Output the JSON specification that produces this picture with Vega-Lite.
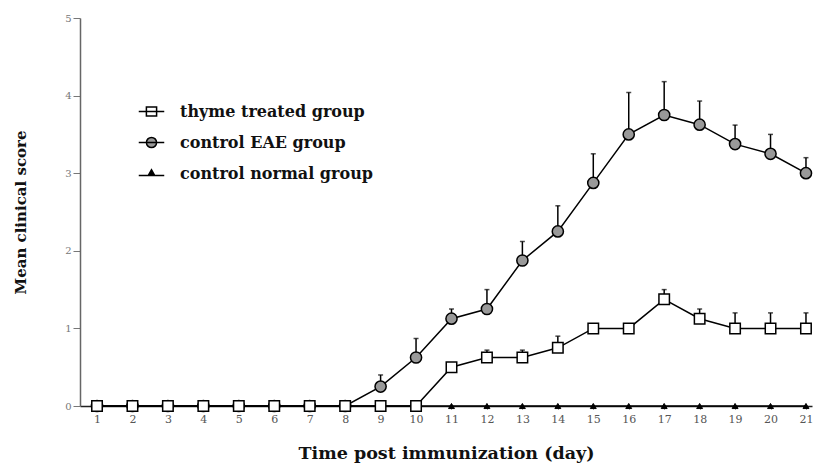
{
  "$schema": "https://vega.github.io/schema/vega-lite/v6.json",
  "width": 732,
  "height": 388,
  "autosize": {"type": "none"},
  "padding": {"left": 80, "top": 18, "right": 6, "bottom": 59},
  "background": "white",
  "config": {
    "view": {"stroke": null},
    "font": "DejaVu Serif",
    "axis": {"grid": false}
  },
  "data": {
    "values": [
      {"day": 1, "group": "control normal group", "score": 0},
      {"day": 2, "group": "control normal group", "score": 0},
      {"day": 3, "group": "control normal group", "score": 0},
      {"day": 4, "group": "control normal group", "score": 0},
      {"day": 5, "group": "control normal group", "score": 0},
      {"day": 6, "group": "control normal group", "score": 0},
      {"day": 7, "group": "control normal group", "score": 0},
      {"day": 8, "group": "control normal group", "score": 0},
      {"day": 9, "group": "control normal group", "score": 0},
      {"day": 10, "group": "control normal group", "score": 0},
      {"day": 11, "group": "control normal group", "score": 0},
      {"day": 12, "group": "control normal group", "score": 0},
      {"day": 13, "group": "control normal group", "score": 0},
      {"day": 14, "group": "control normal group", "score": 0},
      {"day": 15, "group": "control normal group", "score": 0},
      {"day": 16, "group": "control normal group", "score": 0},
      {"day": 17, "group": "control normal group", "score": 0},
      {"day": 18, "group": "control normal group", "score": 0},
      {"day": 19, "group": "control normal group", "score": 0},
      {"day": 20, "group": "control normal group", "score": 0},
      {"day": 21, "group": "control normal group", "score": 0},
      {"day": 1, "group": "control EAE group", "score": 0},
      {"day": 2, "group": "control EAE group", "score": 0},
      {"day": 3, "group": "control EAE group", "score": 0},
      {"day": 4, "group": "control EAE group", "score": 0},
      {"day": 5, "group": "control EAE group", "score": 0},
      {"day": 6, "group": "control EAE group", "score": 0},
      {"day": 7, "group": "control EAE group", "score": 0},
      {"day": 8, "group": "control EAE group", "score": 0},
      {"day": 9, "group": "control EAE group", "score": 0.25, "upper": 0.4},
      {"day": 10, "group": "control EAE group", "score": 0.625, "upper": 0.87},
      {"day": 11, "group": "control EAE group", "score": 1.125, "upper": 1.25},
      {"day": 12, "group": "control EAE group", "score": 1.25, "upper": 1.5},
      {"day": 13, "group": "control EAE group", "score": 1.875, "upper": 2.12},
      {"day": 14, "group": "control EAE group", "score": 2.25, "upper": 2.58},
      {"day": 15, "group": "control EAE group", "score": 2.875, "upper": 3.25},
      {"day": 16, "group": "control EAE group", "score": 3.5, "upper": 4.04},
      {"day": 17, "group": "control EAE group", "score": 3.75, "upper": 4.18},
      {"day": 18, "group": "control EAE group", "score": 3.625, "upper": 3.93},
      {"day": 19, "group": "control EAE group", "score": 3.375, "upper": 3.62},
      {"day": 20, "group": "control EAE group", "score": 3.25, "upper": 3.5},
      {"day": 21, "group": "control EAE group", "score": 3.0, "upper": 3.2},
      {"day": 1, "group": "thyme treated group", "score": 0},
      {"day": 2, "group": "thyme treated group", "score": 0},
      {"day": 3, "group": "thyme treated group", "score": 0},
      {"day": 4, "group": "thyme treated group", "score": 0},
      {"day": 5, "group": "thyme treated group", "score": 0},
      {"day": 6, "group": "thyme treated group", "score": 0},
      {"day": 7, "group": "thyme treated group", "score": 0},
      {"day": 8, "group": "thyme treated group", "score": 0},
      {"day": 9, "group": "thyme treated group", "score": 0},
      {"day": 10, "group": "thyme treated group", "score": 0},
      {"day": 11, "group": "thyme treated group", "score": 0.5},
      {"day": 12, "group": "thyme treated group", "score": 0.625, "upper": 0.72},
      {"day": 13, "group": "thyme treated group", "score": 0.625, "upper": 0.72},
      {"day": 14, "group": "thyme treated group", "score": 0.75, "upper": 0.9},
      {"day": 15, "group": "thyme treated group", "score": 1.0},
      {"day": 16, "group": "thyme treated group", "score": 1.0},
      {"day": 17, "group": "thyme treated group", "score": 1.375, "upper": 1.5},
      {"day": 18, "group": "thyme treated group", "score": 1.125, "upper": 1.25},
      {"day": 19, "group": "thyme treated group", "score": 1.0, "upper": 1.2},
      {"day": 20, "group": "thyme treated group", "score": 1.0, "upper": 1.2},
      {"day": 21, "group": "thyme treated group", "score": 1.0, "upper": 1.2}
    ]
  },
  "encoding": {
    "x": {
      "field": "day", "type": "quantitative",
      "scale": {"domain": [0.52, 21.17], "nice": false, "zero": false},
      "axis": {
        "title": "Time post immunization (day)",
        "values": [1,2,3,4,5,6,7,8,9,10,11,12,13,14,15,16,17,18,19,20,21],
        "format": "d",
        "labelFont": "DejaVu Serif", "labelFontSize": 11, "labelColor": "#555",
        "labelPadding": 4,
        "tickSize": 3, "tickColor": "#555",
        "domainColor": "#222", "domainWidth": 1.5,
        "titleFont": "DejaVu Serif", "titleFontSize": 17.5, "titleFontWeight": "bold", "titleColor": "#111",
        "titlePadding": 20
      }
    },
    "y": {
      "field": "score", "type": "quantitative",
      "scale": {"domain": [0, 5], "nice": false},
      "axis": {
        "title": "Mean clinical score",
        "values": [0,1,2,3,4,5],
        "labelFont": "DejaVu Serif", "labelFontSize": 10, "labelColor": "#777",
        "tickSize": 7, "tickColor": "#777",
        "domainColor": "#666", "domainWidth": 1.5,
        "titleFont": "DejaVu Serif", "titleFontSize": 15, "titleFontWeight": "bold", "titleColor": "#111",
        "titlePadding": 36
      }
    }
  },
  "layer": [
    {
      "transform": [{"filter": "datum.upper != null"}],
      "mark": {"type": "rule", "color": "black", "strokeWidth": 1.5},
      "encoding": {"y2": {"field": "upper"}}
    },
    {
      "transform": [{"filter": "datum.upper != null"}],
      "mark": {"type": "tick", "orient": "horizontal", "color": "black", "size": 5, "thickness": 1.5},
      "encoding": {"y": {"field": "upper", "type": "quantitative"}}
    },
    {
      "mark": {"type": "line", "color": "black", "strokeWidth": 1.5},
      "encoding": {"detail": {"field": "group"}}
    },
    {
      "mark": {"type": "point", "opacity": 0, "strokeWidth": 1.5, "stroke": "black", "filled": true},
      "encoding": {
        "shape": {
          "field": "group", "type": "nominal",
          "scale": {
            "domain": ["thyme treated group", "control EAE group", "control normal group"],
            "range": [
              "M-1,0H1M-0.4,-0.36H0.4V0.36H-0.4Z",
              "M-1,0H1M-0.4,0A0.4,0.4 0 1,0 0.4,0A0.4,0.4 0 1,0 -0.4,0Z",
              "M-1,0.15H1M-0.25,0.15L0,-0.3L0.25,0.15Z"
            ]
          },
          "legend": {
            "title": null,
            "orient": "none", "legendX": 58, "legendY": 80,
            "symbolSize": 650, "symbolOpacity": 1, "symbolStrokeColor": "black", "symbolStrokeWidth": 1.5,
            "labelFont": "DejaVu Serif", "labelFontSize": 16, "labelFontWeight": "bold", "labelColor": "#111",
            "labelOffset": 15, "rowPadding": 9, "labelLimit": 400,
            "encode": {"symbols": {"update": {"stroke": {"value": "black"}, "strokeWidth": {"value": 1.5}, "opacity": {"value": 1}, "strokeOpacity": {"value": 1}}}}
          }
        },
        "fill": {
          "field": "group", "type": "nominal",
          "scale": {
            "domain": ["thyme treated group", "control EAE group", "control normal group"],
            "range": ["white", "#999", "black"]
          },
          "legend": {
            "title": null,
            "orient": "none", "legendX": 58, "legendY": 80,
            "symbolSize": 650, "symbolOpacity": 1, "symbolStrokeColor": "black", "symbolStrokeWidth": 1.5,
            "labelFont": "DejaVu Serif", "labelFontSize": 16, "labelFontWeight": "bold", "labelColor": "#111",
            "labelOffset": 15, "rowPadding": 9, "labelLimit": 400,
            "encode": {"symbols": {"update": {"stroke": {"value": "black"}, "strokeWidth": {"value": 1.5}, "opacity": {"value": 1}, "strokeOpacity": {"value": 1}}}}
          }
        }
      }
    },
    {
      "transform": [{"filter": "datum.group == 'control normal group'"}],
      "mark": {"type": "point", "shape": "triangle-up", "filled": true, "fill": "black", "stroke": "black", "strokeWidth": 1, "size": 35, "opacity": 1}
    },
    {
      "transform": [{"filter": "datum.group == 'control EAE group'"}],
      "mark": {"type": "point", "shape": "circle", "filled": true, "fill": "#999", "stroke": "black", "strokeWidth": 1.5, "size": 125, "opacity": 1}
    },
    {
      "transform": [{"filter": "datum.group == 'thyme treated group'"}],
      "mark": {"type": "point", "shape": "square", "filled": true, "fill": "white", "stroke": "black", "strokeWidth": 1.5, "size": 110, "opacity": 1}
    }
  ]
}
